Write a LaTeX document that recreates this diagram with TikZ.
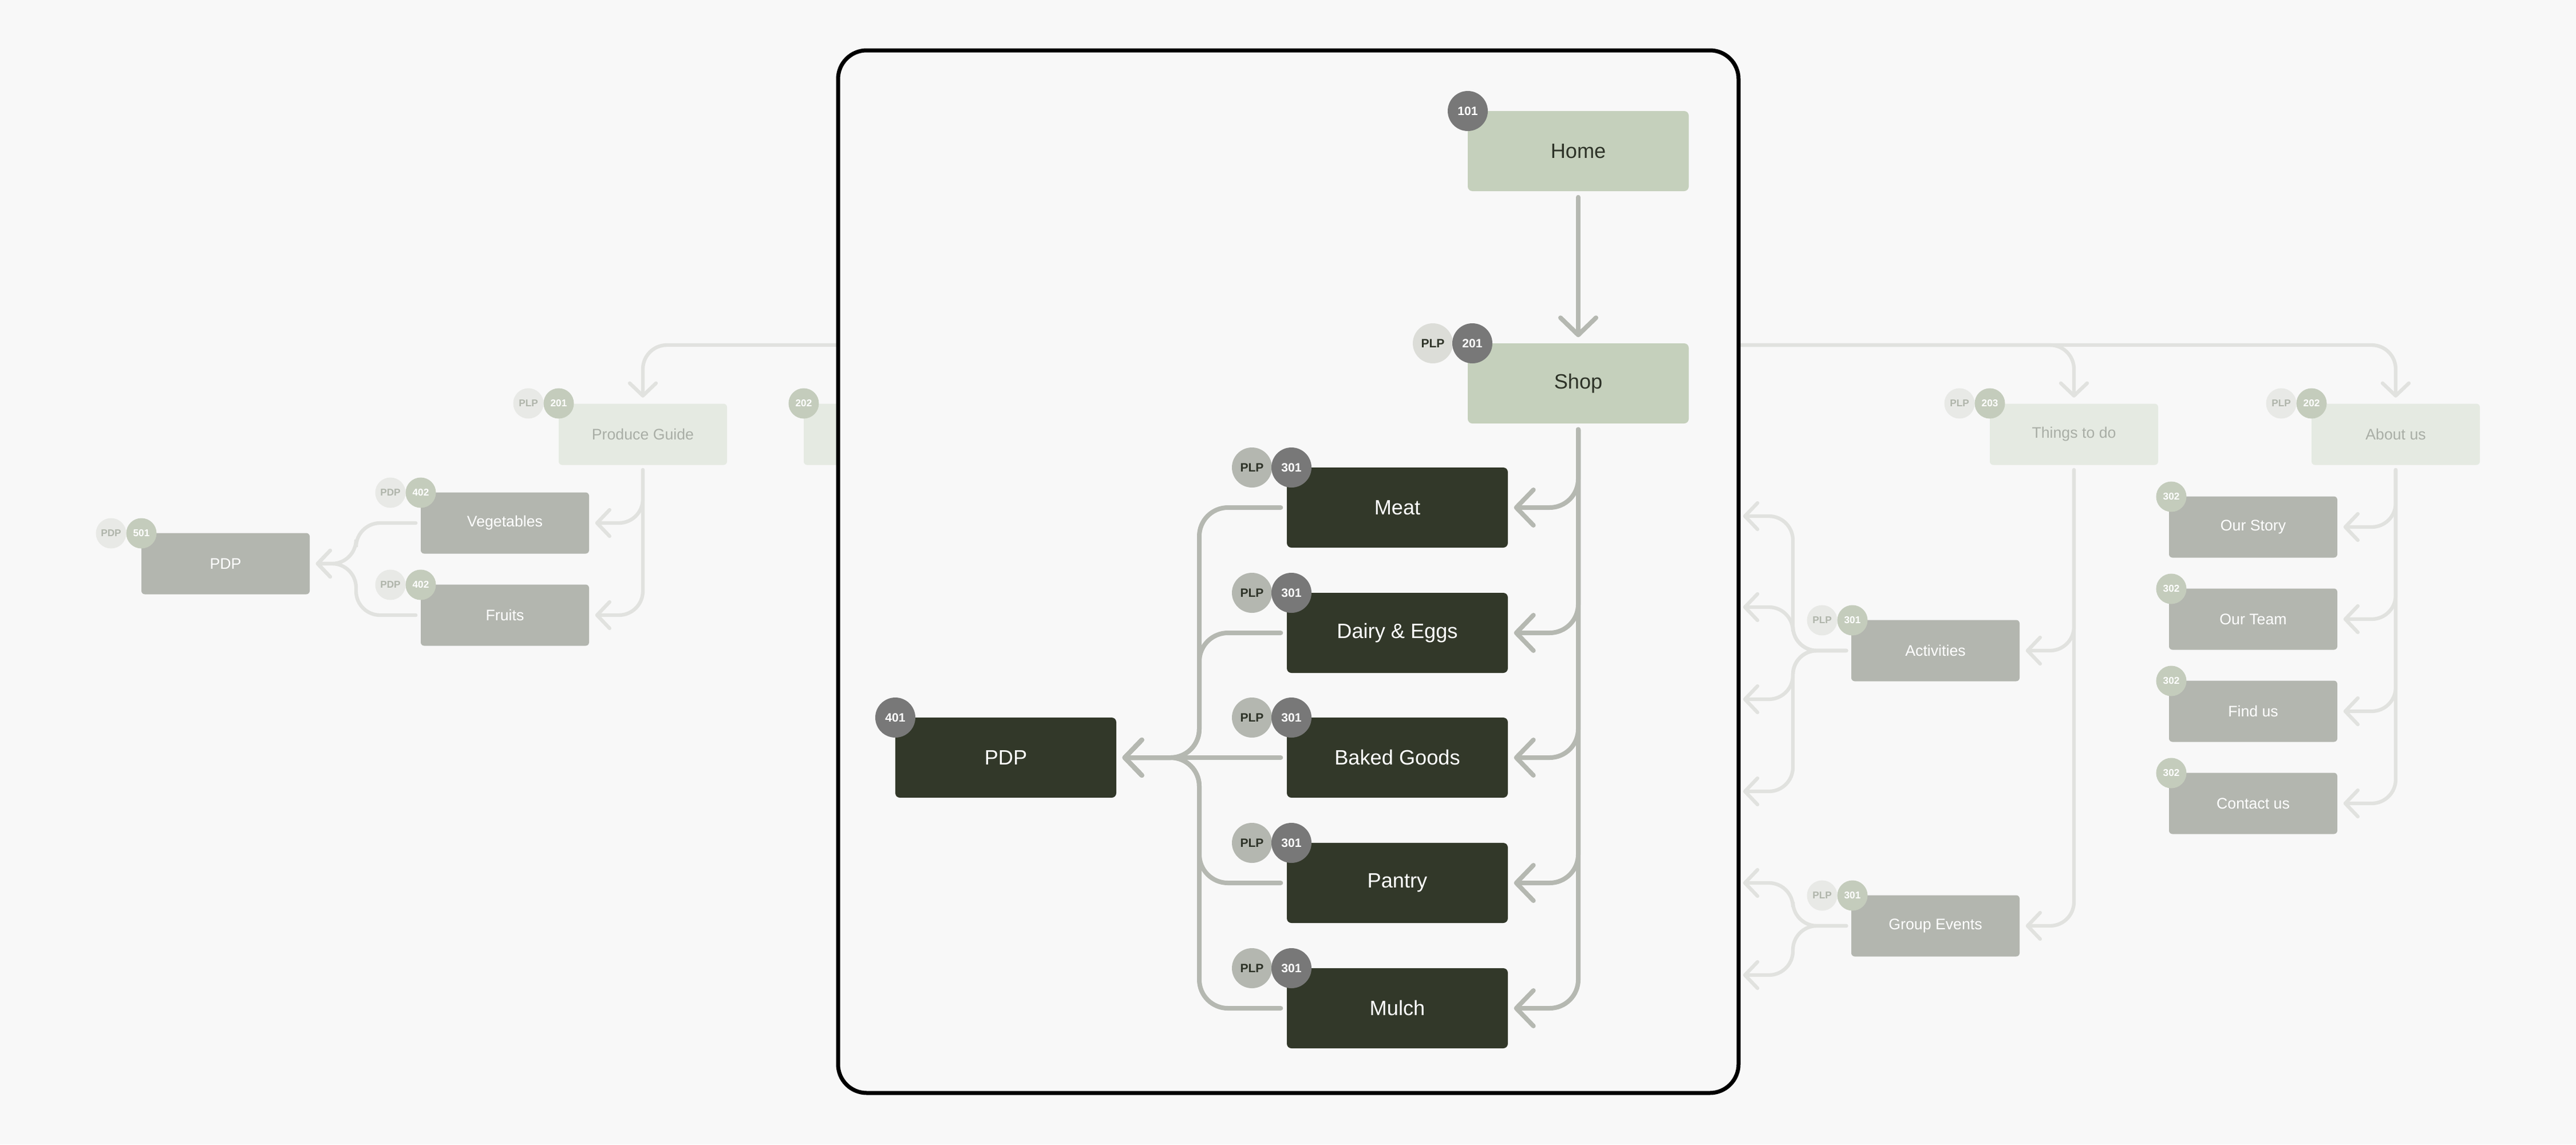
\documentclass[tikz,border=0pt]{standalone}
\usepackage{fontspec}
\setmainfont{Liberation Sans}
\usetikzlibrary{arrows.meta}

\definecolor{bgcol}{HTML}{F8F8F8}
\definecolor{sage}{HTML}{C5D0BC}
\definecolor{olive}{HTML}{323829}
\definecolor{ink}{HTML}{2E3328}
\definecolor{tagdark}{HTML}{787878}
\definecolor{plplight}{HTML}{DCDDD8}
\definecolor{plpmid}{HTML}{B4B7B0}
\definecolor{linkcol}{HTML}{B5B8B1}
\definecolor{fadeline}{HTML}{E1E2DF}
\definecolor{fadefill}{HTML}{E5EAE2}
\definecolor{fadetext}{HTML}{A9AEA6}
\definecolor{greyfill}{HTML}{B3B6AF}
\definecolor{fadenumcol}{HTML}{C4CCBC}
\definecolor{fadeplpcol}{HTML}{E8E9E6}
\definecolor{fadeplptext}{HTML}{B0B5AB}

\tikzset{
  pagebox/.style={rounded corners=0.08cm, minimum width=3.86cm, minimum height=1.40cm, inner sep=0pt, font=\fontsize{10.3}{12}\selectfont},
  homebox/.style={pagebox, fill=sage, text=ink},
  catbox/.style={pagebox, fill=olive, text=white},
  numtag/.style={circle, fill=tagdark, text=white, minimum size=0.70cm, inner sep=0pt, font=\bfseries\fontsize{6}{7}\selectfont},
  plptag/.style={numtag, fill=plplight, text=ink},
  plptagmid/.style={numtag, fill=plpmid, text=ink},
  link/.style={draw=linkcol, line width=0.08cm, line cap=round, rounded corners=0.5cm, shorten <=0.1cm, shorten >=0.1cm, -{Straight Barb[length=0.3cm,width=0.62cm,round]}},
  fadebox/.style={rounded corners=0.06cm, minimum width=2.94cm, minimum height=1.07cm, inner sep=0pt, font=\fontsize{7.6}{9}\selectfont, fill=fadefill, text=fadetext},
  greybox/.style={fadebox, fill=greyfill, text=white},
  fadenum/.style={circle, fill=fadenumcol, text=white, minimum size=0.53cm, inner sep=0pt, font=\bfseries\fontsize{4.9}{6}\selectfont},
  fadeplp/.style={fadenum, fill=fadeplpcol, text=fadeplptext},
  fadelink/.style={draw=fadeline, line width=0.063cm, line cap=round, rounded corners=0.42cm, shorten <=0.08cm, shorten >=0.1cm, -{Straight Barb[length=0.22cm,width=0.46cm,round]}},
}

\begin{document}
\begin{tikzpicture}[x=1cm, y=-1cm]
		\useasboundingbox (0,0) rectangle (45,20);
		\fill[bgcol] (0,0) rectangle (45,20);
		% outside, faded
		\coordinate (hub) at (27.57,6.03);
		\node[fadebox] (produce) at (11.23,7.59) {Produce Guide};
		\node[fadeplp] (produceplp) at (9.23,7.05) {PLP};
		\node[fadenum] (producenum) at (9.76,7.05) {201};
		\node[fadebox] (guide) at (15.51,7.59) {};
		\node[fadenum] (guidenum) at (14.04,7.05) {202};
		\node[fadebox] (things) at (36.23,7.59) {Things to do};
		\node[fadeplp] (thingsplp) at (34.23,7.05) {PLP};
		\node[fadenum] (thingsnum) at (34.76,7.05) {203};
		\node[fadebox] (about) at (41.85,7.59) {About us};
		\node[fadeplp] (aboutplp) at (39.85,7.05) {PLP};
		\node[fadenum] (aboutnum) at (40.38,7.05) {202};
		\draw[fadelink] (hub) -- (hub -| produce.north) -- (produce.north);
		\draw[fadelink] (hub) -- (hub -| guide.north) -- (guide.north);
		\draw[fadelink] (hub) -- (hub -| things.north) -- (things.north);
		\draw[fadelink] (hub) -- (hub -| about.north) -- (about.north);
		% produce guide
		\node[greybox] (veg) at (8.82,9.14) {Vegetables};
		\node[fadeplp] (vegpdp) at (6.82,8.61) {PDP};
		\node[fadenum] (vegnum) at (7.35,8.61) {402};
		\node[greybox] (fruits) at (8.82,10.75) {Fruits};
		\node[fadeplp] (fruitspdp) at (6.82,10.22) {PDP};
		\node[fadenum] (fruitsnum) at (7.35,10.22) {402};
		\node[greybox] (pdpout) at (3.94,9.85) {PDP};
		\node[fadeplp] (pdpoutpdp) at (1.94,9.32) {PDP};
		\node[fadenum] (pdpoutnum) at (2.47,9.32) {501};
		\coordinate (leftjoin) at (6.22,9.85);
		\draw[fadelink] (produce.south) -- (produce.south |- veg.east) -- (veg.east);
		\draw[fadelink] (produce.south) -- (produce.south |- fruits.east) -- (fruits.east);
		\draw[fadelink] (veg.west) -- (veg.west -| leftjoin) -- (leftjoin) -- (pdpout.east);
		\draw[fadelink] (fruits.west) -- (fruits.west -| leftjoin) -- (leftjoin) -- (pdpout.east);
		% about us
		\node[greybox] (story) at (39.36,9.21) {Our Story};
		\node[fadenum] (storynum) at (37.93,8.68) {302};
		\node[greybox] (team) at (39.36,10.82) {Our Team};
		\node[fadenum] (teamnum) at (37.93,10.29) {302};
		\node[greybox] (findus) at (39.36,12.43) {Find us};
		\node[fadenum] (findusnum) at (37.93,11.90) {302};
		\node[greybox] (contact) at (39.36,14.04) {Contact us};
		\node[fadenum] (contactnum) at (37.93,13.51) {302};
		\draw[fadelink] (about.south) -- (about.south |- story.east) -- (story.east);
		\draw[fadelink] (about.south) -- (about.south |- team.east) -- (team.east);
		\draw[fadelink] (about.south) -- (about.south |- findus.east) -- (findus.east);
		\draw[fadelink] (about.south) -- (about.south |- contact.east) -- (contact.east);
		% things to do
		\node[greybox] (activities) at (33.81,11.37) {Activities};
		\node[fadeplp] (activitiesplp) at (31.83,10.84) {PLP};
		\node[fadenum] (activitiesnum) at (32.36,10.84) {301};
		\node[greybox] (events) at (33.81,16.18) {Group Events};
		\node[fadeplp] (eventsplp) at (31.83,15.65) {PLP};
		\node[fadenum] (eventsnum) at (32.36,15.65) {301};
		\draw[fadelink] (things.south) -- (things.south |- activities.east) -- (activities.east);
		\draw[fadelink] (things.south) -- (things.south |- events.east) -- (events.east);
		\coordinate (actjoin) at (31.32,11.37);
		\coordinate (act1) at (30.35,9.02);
		\coordinate (act2) at (30.35,10.61);
		\coordinate (act3) at (30.35,12.22);
		\coordinate (act4) at (30.35,13.83);
		\draw[fadelink] (activities.west) -- (actjoin) -- (actjoin |- act1) -- (act1);
		\draw[fadelink] (activities.west) -- (actjoin) -- (actjoin |- act2) -- (act2);
		\draw[fadelink] (activities.west) -- (actjoin) -- (actjoin |- act3) -- (act3);
		\draw[fadelink] (activities.west) -- (actjoin) -- (actjoin |- act4) -- (act4);
		\coordinate (evjoin) at (31.32,16.18);
		\coordinate (ev1) at (30.35,15.43);
		\coordinate (ev2) at (30.35,17.04);
		\draw[fadelink] (events.west) -- (evjoin) -- (evjoin |- ev1) -- (ev1);
		\draw[fadelink] (events.west) -- (evjoin) -- (evjoin |- ev2) -- (ev2);
		% frame
		\draw[line width=0.07cm, fill=bgcol, rounded corners=0.5cm] (14.64,0.88) rectangle (30.37,19.10);
		% home and shop
		\node[homebox] (home) at (27.57,2.64) {Home};
		\node[numtag] (homenum) at (25.64,1.94) {101};
		\node[homebox] (shop) at (27.57,6.70) {Shop};
		\node[plptag] (shopplp) at (25.03,6.00) {PLP};
		\node[numtag] (shopnum) at (25.72,6.00) {201};
		\draw[link] (home.south) -- (shop.north);
		% categories
		\node[catbox] (meat) at (24.41,8.87) {Meat};
		\node[plptagmid] (meatplp) at (21.87,8.17) {PLP};
		\node[numtag] (meatnum) at (22.56,8.17) {301};
		\node[catbox] (dairy) at (24.41,11.06) {Dairy \& Eggs};
		\node[plptagmid] (dairyplp) at (21.87,10.36) {PLP};
		\node[numtag] (dairynum) at (22.56,10.36) {301};
		\node[catbox] (baked) at (24.41,13.24) {Baked Goods};
		\node[plptagmid] (bakedplp) at (21.87,12.54) {PLP};
		\node[numtag] (bakednum) at (22.56,12.54) {301};
		\node[catbox] (pantry) at (24.41,15.43) {Pantry};
		\node[plptagmid] (pantryplp) at (21.87,14.73) {PLP};
		\node[numtag] (pantrynum) at (22.56,14.73) {301};
		\node[catbox] (mulch) at (24.41,17.62) {Mulch};
		\node[plptagmid] (mulchplp) at (21.87,16.92) {PLP};
		\node[numtag] (mulchnum) at (22.56,16.92) {301};
		\draw[link] (shop.south) -- (shop.south |- meat.east) -- (meat.east);
		\draw[link] (shop.south) -- (shop.south |- dairy.east) -- (dairy.east);
		\draw[link] (shop.south) -- (shop.south |- baked.east) -- (baked.east);
		\draw[link] (shop.south) -- (shop.south |- pantry.east) -- (pantry.east);
		\draw[link] (shop.south) -- (shop.south |- mulch.east) -- (mulch.east);
		% product page
		\node[catbox] (pdp) at (17.57,13.24) {PDP};
		\node[numtag] (pdpnum) at (15.64,12.54) {401};
		\coordinate (pdpjoin) at (20.95,13.24);
		\draw[link] (meat.west) -- (meat.west -| pdpjoin) -- (pdpjoin) -- (pdp.east);
		\draw[link] (dairy.west) -- (dairy.west -| pdpjoin) -- (pdpjoin) -- (pdp.east);
		\draw[link] (baked.west) -- (pdp.east);
		\draw[link] (pantry.west) -- (pantry.west -| pdpjoin) -- (pdpjoin) -- (pdp.east);
		\draw[link] (mulch.west) -- (mulch.west -| pdpjoin) -- (pdpjoin) -- (pdp.east);
\end{tikzpicture}
\end{document}
